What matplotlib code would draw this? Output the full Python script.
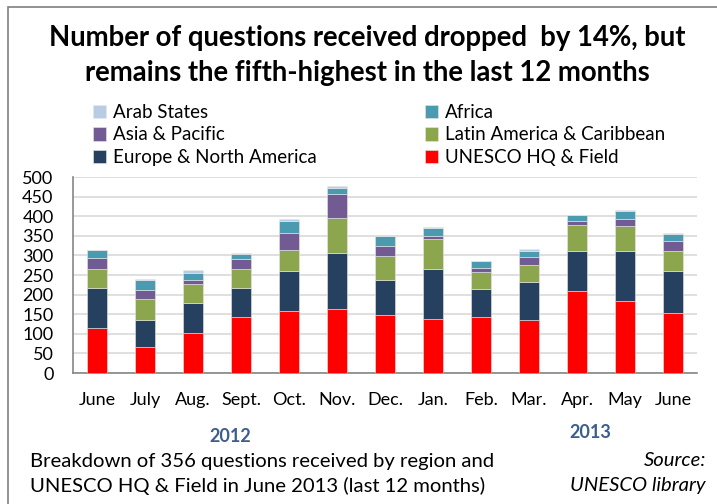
import matplotlib
matplotlib.use("Agg")
import matplotlib.pyplot as plt
import numpy as np
from matplotlib.patches import Rectangle

plt.rcParams['font.family'] = ['Lato', 'DejaVu Sans']

months = ["June", "July", "Aug.", "Sept.", "Oct.", "Nov.", "Dec.",
          "Jan.", "Feb.", "Mar.", "Apr.", "May", "June"]

unesco_hq = [114, 67, 101, 143, 157, 163, 148, 137, 143, 134, 208, 183, 153]
europe_na = [104, 69, 78, 73, 104, 144, 88, 128, 72, 98, 103, 128, 106]
latin_am = [47, 53, 48, 49, 53, 89, 62, 76, 42, 43, 66, 63, 52]
asia_pac = [29, 23, 9, 25, 43, 60, 26, 8, 11, 22, 10, 20, 25]
africa = [20, 24, 20, 14, 30, 17, 25, 20, 17, 14, 15, 20, 18]
arab_states = [1, 5, 6, 1, 7, 5, 1, 4, 1, 6, 1, 2, 2]

series = [
    ("UNESCO HQ & Field", unesco_hq, "#FF0000"),
    ("Europe & North America", europe_na, "#26405F"),
    ("Latin America & Caribbean", latin_am, "#8BA64C"),
    ("Asia & Pacific", asia_pac, "#725B92"),
    ("Africa", africa, "#4A9BB0"),
    ("Arab States", arab_states, "#B8CCE4"),
]

fig = plt.figure(figsize=(7.17, 5.04), dpi=100)
ax = fig.add_axes([73 / 717, 1 - 373 / 504, (697 - 73) / 717, (373 - 177) / 504])

x = np.arange(len(months))
bottom = np.zeros(len(months))
handles = {}
for name, vals, col in series:
    b = ax.bar(x, vals, width=0.4, bottom=bottom, color=col,
               edgecolor="#E8E8E8", linewidth=0.4, zorder=3)
    handles[name] = b
    bottom += np.array(vals)

ax.set_ylim(0, 500)
ax.set_xlim(-0.5, len(months) - 0.5)
ax.set_yticks(range(0, 501, 50))
ax.yaxis.grid(True, color="#D9D9D9", linewidth=1.2, zorder=0)
ax.tick_params(axis="y", length=0, labelsize=13, pad=14)
ax.tick_params(axis="x", length=0, labelsize=13, pad=14)
ax.set_xticks(x)
ax.set_xticklabels(months)
for s in ["top", "right"]:
    ax.spines[s].set_visible(False)
ax.spines["left"].set_color("#868686")
ax.spines["bottom"].set_color("#868686")
ax.spines["left"].set_linewidth(1.2)
ax.spines["bottom"].set_linewidth(1.2)

fig.text(367 / 717, 1 - 38 / 504, "Number of questions received dropped  by 14%, but",
         ha="center", va="center", fontsize=19.8, fontweight="bold")
fig.text(367 / 717, 1 - 73 / 504, "remains the fifth-highest in the last 12 months",
         ha="center", va="center", fontsize=19.8, fontweight="bold")

# legend is filled column by column
order = ["Arab States", "Asia & Pacific", "Europe & North America",
         "Africa", "Latin America & Caribbean", "UNESCO HQ & Field"]
leg = fig.legend([handles[n] for n in order], order, ncol=2,
                 loc="upper left", bbox_to_anchor=(76 / 717, 1 - 87 / 504),
                 frameon=False, fontsize=13.5, handlelength=0.7, handleheight=0.7,
                 handletextpad=0.35, columnspacing=5.8, labelspacing=0.3)

fig.text(230 / 717, 1 - 436 / 504, "2012", ha="center", va="center",
         fontsize=13, fontweight="bold", color="#3B5E8C")
fig.text(590 / 717, 1 - 432 / 504, "2013", ha="center", va="center",
         fontsize=13, fontweight="bold", color="#3B5E8C")
fig.text(30 / 717, 1 - 461 / 504, "Breakdown of 356 questions received by region and",
         ha="left", va="center", fontsize=14.6)
fig.text(30 / 717, 1 - 486 / 504, "UNESCO HQ & Field in June 2013 (last 12 months)",
         ha="left", va="center", fontsize=14.6)
fig.text(706 / 717, 1 - 461 / 504, "Source:", ha="right", va="center",
         fontsize=14.6, style="italic")
fig.text(706 / 717, 1 - 486 / 504, "UNESCO library", ha="right", va="center",
         fontsize=14.6, style="italic")

# outer frame, cut off at the right and bottom edges like the original
fig.patches.append(Rectangle((8 / 717, -0.1), 1.2, 1.1 - 7 / 504,
                             transform=fig.transFigure, fill=False,
                             edgecolor="#7F7F7F", linewidth=1.2))

fig.savefig("out.png", dpi=100)
